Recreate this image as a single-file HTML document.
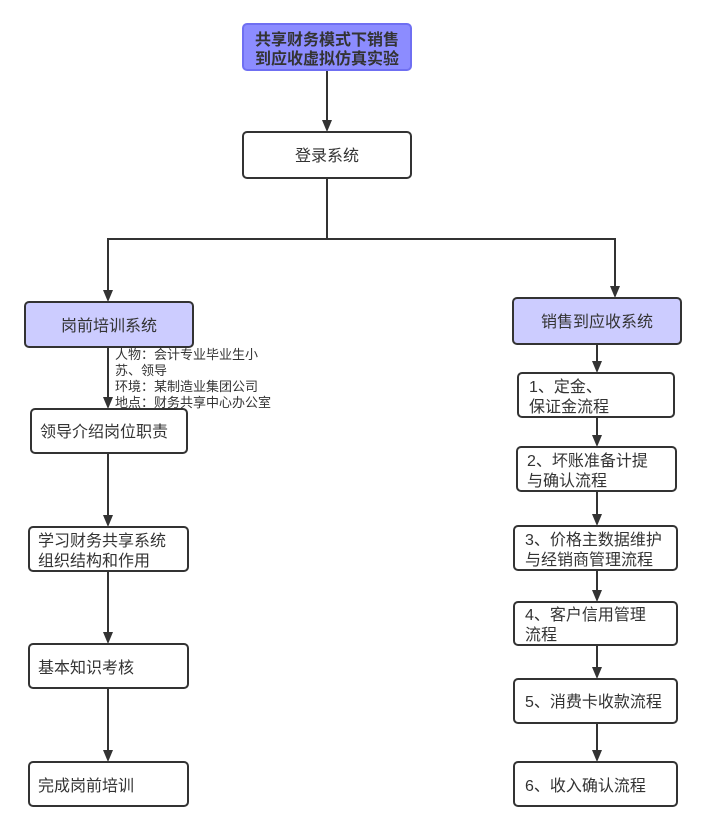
<!DOCTYPE html>
<html><head><meta charset="utf-8"><style>
html,body{margin:0;padding:0;background:#fff;}
svg{display:block;}
text{font-family:"Liberation Sans","Noto Sans CJK SC",sans-serif;fill:#333;}
</style></head><body>
<svg width="705" height="830" viewBox="0 0 705 830" xmlns="http://www.w3.org/2000/svg">
<g stroke="#333" stroke-width="2" fill="none">
<path d="M327 70 V120"/>
<path d="M327 178 V239 H108 V290"/>
<path d="M327 239 H615 V286"/>
<path d="M108 347 V398"/>
<path d="M108 453 V516"/>
<path d="M108 571 V633"/>
<path d="M108 688 V751"/>
<path d="M597 344 V362"/>
<path d="M597 417 V436"/>
<path d="M597 491 V515"/>
<path d="M597 570 V591"/>
<path d="M597 645 V668"/>
<path d="M597 723 V751"/>
</g>
<g fill="#333">
<path d="M322 120 L332 120 L327 132 z"/>
<path d="M103 290 L113 290 L108 302 z"/>
<path d="M610 286 L620 286 L615 298 z"/>
<path d="M103 397 L113 397 L108 409 z"/>
<path d="M103 515 L113 515 L108 527 z"/>
<path d="M103 632 L113 632 L108 644 z"/>
<path d="M103 750 L113 750 L108 762 z"/>
<path d="M592 361 L602 361 L597 373 z"/>
<path d="M592 435 L602 435 L597 447 z"/>
<path d="M592 514 L602 514 L597 526 z"/>
<path d="M592 590 L602 590 L597 602 z"/>
<path d="M592 667 L602 667 L597 679 z"/>
<path d="M592 750 L602 750 L597 762 z"/>
</g>
<g stroke-width="2">
<rect x="243" y="24" width="168" height="46" rx="4" fill="#8c8cff" stroke="#6f6ff2"/>
<rect x="243" y="132" width="168" height="46" rx="4" fill="#fff" stroke="#333"/>
<rect x="25" y="302" width="168" height="45" rx="4" fill="#ccccff" stroke="#333"/>
<rect x="513" y="298" width="168" height="46" rx="4" fill="#ccccff" stroke="#333"/>
<rect x="31" y="409" width="156" height="44" rx="4" fill="#fff" stroke="#333"/>
<rect x="29" y="527" width="159" height="44" rx="4" fill="#fff" stroke="#333"/>
<rect x="29" y="644" width="159" height="44" rx="4" fill="#fff" stroke="#333"/>
<rect x="29" y="762" width="159" height="44" rx="4" fill="#fff" stroke="#333"/>
<rect x="518" y="373" width="156" height="44" rx="4" fill="#fff" stroke="#333"/>
<rect x="517" y="447" width="159" height="44" rx="4" fill="#fff" stroke="#333"/>
<rect x="514" y="526" width="163" height="44" rx="4" fill="#fff" stroke="#333"/>
<rect x="514" y="602" width="163" height="43" rx="4" fill="#fff" stroke="#333"/>
<rect x="514" y="679" width="163" height="44" rx="4" fill="#fff" stroke="#333"/>
<rect x="514" y="762" width="163" height="44" rx="4" fill="#fff" stroke="#333"/>
</g>
<g font-size="16">
<text x="327" y="45" text-anchor="middle" font-weight="bold">共享财务模式下销售</text>
<text x="327" y="64" text-anchor="middle" font-weight="bold">到应收虚拟仿真实验</text>
<text x="327" y="161" text-anchor="middle">登录系统</text>
<text x="109" y="331" text-anchor="middle">岗前培训系统</text>
<text x="597" y="327" text-anchor="middle">销售到应收系统</text>
<text x="40" y="437">领导介绍岗位职责</text>
<text x="38" y="546">学习财务共享系统</text>
<text x="38" y="566">组织结构和作用</text>
<text x="38" y="673">基本知识考核</text>
<text x="38" y="791">完成岗前培训</text>
<text x="529" y="392">1、定金、</text>
<text x="529" y="412">保证金流程</text>
<text x="527" y="466">2、坏账准备计提</text>
<text x="527" y="486">与确认流程</text>
<text x="525" y="545">3、价格主数据维护</text>
<text x="525" y="565">与经销商管理流程</text>
<text x="525" y="620">4、客户信用管理</text>
<text x="525" y="640">流程</text>
<text x="525" y="707">5、消费卡收款流程</text>
<text x="525" y="791">6、收入确认流程</text>
</g>
<g font-size="13">
<text x="115" y="359">人物：会计专业毕业生小</text>
<text x="115" y="375">苏、领导</text>
<text x="115" y="391">环境：某制造业集团公司</text>
<text x="115" y="407">地点：财务共享中心办公室</text>
</g>
</svg>
</body></html>
